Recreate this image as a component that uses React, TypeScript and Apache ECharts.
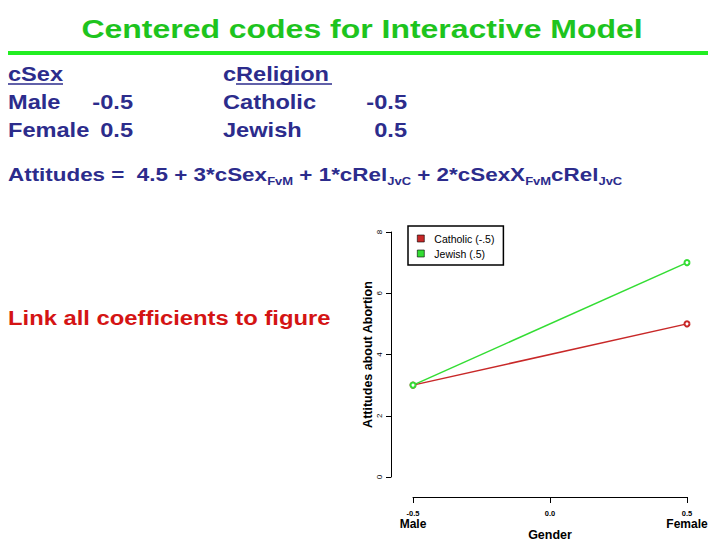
import React, { useEffect, useRef } from "react";
import * as echarts from "echarts";

const genderX = [-0.5, 0.5];
const xTickValues = [-0.5, 0, 0.5];
const xTickLabels = ["-0.5", "0.0", "0.5"];
const xCatLabels = ["Male", "", "Female"];
const catholic = [3, 5];
const jewish = [3, 7];
const seriesNames = ["Catholic (-.5)", "Jewish (.5)"];

const titleText = "Centered codes for Interactive Model";
const sexHeader = "cSex";
const sexRows = [
  ["Male", "-0.5"],
  ["Female", "0.5"],
];
const relHeaderPrefix = "c";
const relHeader = "Religion";
const relRows = [
  ["Catholic", "-0.5"],
  ["Jewish", "0.5"],
];
const equation =
  "Attitudes =  4.5 + 3*cSex{s|FvM} + 1*cRel{s|JvC} + 2*cSexX{s|FvM}cRel{s|JvC}";
const linkText = "Link all coefficients to figure";

const FONT = "Liberation Sans, Arial, Helvetica, sans-serif";
const NAVY = "#2c2c8c";
const TITLE_GREEN = "#1ec41e";
const LINE_GREEN = "#22ee22";
const RED_TEXT = "#d41414";

export default function App() {
  const ref = useRef<HTMLDivElement>(null);
  useEffect(() => {
    if (!ref.current) return;
    const chart = echarts.init(ref.current, null, { renderer: "svg" });
    const SX = 1.18;
    const txt = (
      text: string,
      x: number,
      y: number,
      size: number,
      color: string,
      align: string = "left",
      sx: number = SX
    ) => ({
      type: "text",
      x,
      y,
      scaleX: sx,
      style: {
        x: 0,
        y: 0,
        text,
        fill: color,
        font: `bold ${size}px ${FONT}`,
        align,
        verticalAlign: "middle",
      },
    });
    const graphic: any[] = [
      txt(titleText, 362, 29, 26, TITLE_GREEN, "center", 1.23),
      {
        type: "rect",
        shape: { x: 8, y: 51, width: 700, height: 4 },
        style: { fill: LINE_GREEN },
      },
      txt(sexHeader, 8, 74, 20, NAVY),
      {
        type: "line",
        shape: { x1: 8, y1: 84, x2: 63, y2: 84 },
        style: { stroke: NAVY, lineWidth: 1.5 },
      },
      txt(sexRows[0][0], 8, 102, 20, NAVY),
      txt(sexRows[0][1], 133, 102, 20, NAVY, "right"),
      txt(sexRows[1][0], 8, 130, 20, NAVY),
      txt(sexRows[1][1], 133, 130, 20, NAVY, "right"),
      txt(relHeaderPrefix, 223, 74, 20, NAVY),
      txt(relHeader, 236, 74, 20, NAVY),
      {
        type: "line",
        shape: { x1: 236, y1: 84, x2: 332, y2: 84 },
        style: { stroke: NAVY, lineWidth: 1.5 },
      },
      txt(relRows[0][0], 223, 102, 20, NAVY),
      txt(relRows[0][1], 407, 102, 20, NAVY, "right"),
      txt(relRows[1][0], 223, 130, 20, NAVY),
      txt(relRows[1][1], 407, 130, 20, NAVY, "right"),
      {
        type: "text",
        x: 8,
        y: 174,
        scaleX: 1.18,
        style: {
          x: 0,
          y: 0,
          text: equation,
          fill: NAVY,
          font: `bold 19px ${FONT}`,
          lineHeight: 25,
          align: "left",
          verticalAlign: "middle",
          rich: {
            s: {
              fontSize: 11,
              fontWeight: "bold",
              fontFamily: FONT,
              fill: NAVY,
              color: NAVY,
              lineHeight: 11,
              verticalAlign: "bottom",
            },
          },
        },
      },
      txt(linkText, 8, 318, 20, RED_TEXT, "left", 1.19),
    ];

    chart.setOption({
      animation: false,
      textStyle: { fontFamily: FONT },
      graphic,
      legend: {
        left: 408,
        top: 226,
        orient: "vertical",
        borderColor: "#000",
        borderWidth: 1.5,
        padding: [7, 9, 6, 9],
        itemGap: 4,
        itemWidth: 7,
        itemHeight: 7,
        icon: "rect",
        itemStyle: { borderColor: "#000", borderWidth: 0.6 },
        textStyle: { fontSize: 10.5, color: "#000", fontFamily: FONT, padding: [0, 0, 0, 5] },
        data: seriesNames,
      },
      grid: {
        left: 413,
        right: 33,
        top: 232,
        bottom: 63,
        containLabel: false,
        outerBoundsMode: "none",
      },
      xAxis: {
        type: "value",
        min: -0.5,
        max: 0.5,
        interval: 0.5,
        offset: 20,
        axisLine: { show: true, onZero: false, lineStyle: { color: "#000", width: 1 } },
        axisTick: { show: true, length: 6, lineStyle: { color: "#000" } },
        splitLine: { show: false },
        axisLabel: {
          margin: 11,
          color: "#000",
          formatter: (v: number) => {
            const i = xTickValues.findIndex((t) => Math.abs(t - v) < 1e-9);
            if (i < 0) return "";
            const lab = `{a|${xTickLabels[i]}}`;
            return xCatLabels[i] ? `${lab}\n{b|${xCatLabels[i]}}` : lab;
          },
          rich: {
            a: { fontSize: 7.5, fontWeight: "bold", color: "#000", fontFamily: FONT, lineHeight: 10 },
            b: { fontSize: 12, fontWeight: "bold", color: "#000", fontFamily: FONT, lineHeight: 12 },
          },
        },
        name: "Gender",
        nameLocation: "middle",
        nameGap: 31,
        nameMoveOverlap: false,
        nameTextStyle: { fontSize: 12.5, fontWeight: "bold", color: "#000", fontFamily: FONT },
      },
      yAxis: {
        type: "value",
        min: 0,
        max: 8,
        interval: 2,
        offset: 22,
        axisLine: { show: true, onZero: false, lineStyle: { color: "#000", width: 1 } },
        axisTick: { show: true, length: 5, lineStyle: { color: "#000" } },
        splitLine: { show: false },
        axisLabel: { rotate: 90, fontSize: 8, color: "#000", margin: 8, fontFamily: FONT },
        name: "Attitudes about Abortion",
        nameLocation: "middle",
        nameRotate: 90,
        nameGap: 17,
        nameMoveOverlap: false,
        nameTextStyle: { fontSize: 12.5, fontWeight: "bold", color: "#000", fontFamily: FONT },
      },
      series: [
        {
          name: seriesNames[0],
          type: "line",
          data: catholic.map((v, i) => [genderX[i], v]),
          symbol: "emptyCircle",
          symbolSize: 5,
          lineStyle: { color: "#c82828", width: 1.5 },
          itemStyle: { color: "#c82828" },
        },
        {
          name: seriesNames[1],
          type: "line",
          data: jewish.map((v, i) => [genderX[i], v]),
          symbol: "emptyCircle",
          symbolSize: 5,
          lineStyle: { color: "#33dd33", width: 1.5 },
          itemStyle: { color: "#33dd33" },
        },
      ],
    });
    return () => chart.dispose();
  }, []);
  return (
    <div
      ref={ref}
      style={{ position: "fixed", left: 0, top: 0, width: 720, height: 540, background: "#fff" }}
    />
  );
}
